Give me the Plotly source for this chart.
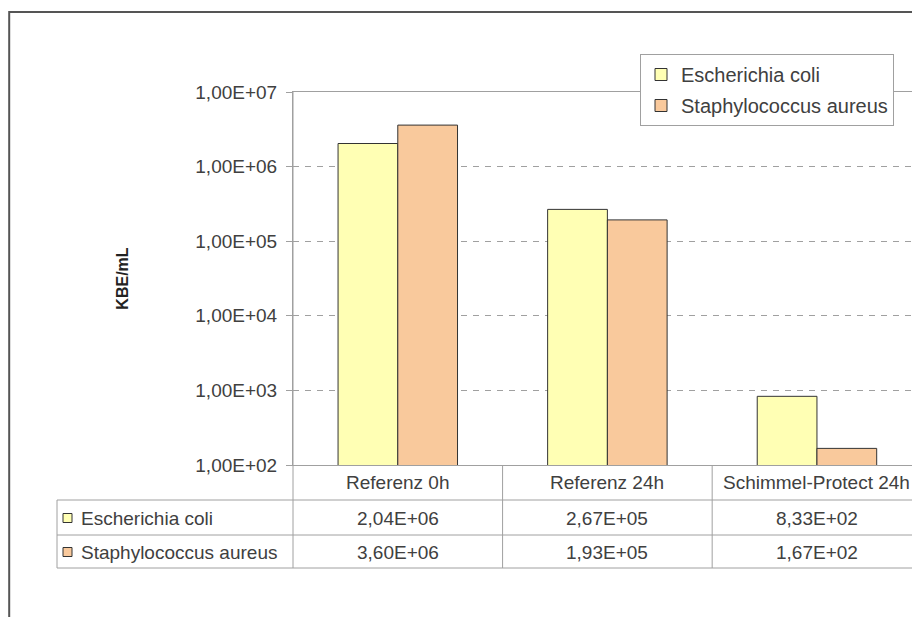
import plotly.graph_objects as go

categories = ["Referenz 0h", "Referenz 24h", "Schimmel-Protect 24h"]
series_names = ["Escherichia coli", "Staphylococcus aureus"]
ecoli = [2.04e6, 2.67e5, 8.33e2]
saureus = [3.60e6, 1.93e5, 1.67e2]
series_values = [ecoli, saureus]
colors = ["#FFFFB4", "#F9C99C"]
tick_vals = [1e2, 1e3, 1e4, 1e5, 1e6, 1e7]

W, H = 920, 617
OFF = 8  # page body margin
L, R, T, B = 293 - OFF, 920 - OFF, 92 - OFF, 465 - OFF  # plot area in figure px


def de(v):
    return f"{v:.2E}".replace(".", ",")


def px(xp):
    # page x -> paper
    return (xp - OFF - L) / (R - L)


def py(yp):
    # page y -> paper
    return (B - (yp - OFF)) / (B - T)


FONT = "Arial, Liberation Sans, sans-serif"
TXT = "#404040"
LINE = "#a0a0a0"

fig = go.Figure()
for i, (name, vals) in enumerate(zip(series_names, series_values)):
    fig.add_trace(go.Bar(
        x=categories, y=vals, name=name, legendgroup=name,
        marker=dict(color=colors[i], line=dict(color="#333333", width=1)),
    ))

shapes = []
# outer frame
shapes.append(dict(type="rect", xref="paper", yref="paper",
                   x0=px(9.2), x1=px(980), y0=py(660), y1=py(12),
                   line=dict(color="#555555", width=2), layer="below"))
# y axis line extended down through the table
shapes.append(dict(type="line", xref="paper", yref="paper",
                   x0=0, x1=0, y0=py(568), y1=1, line=dict(color=LINE, width=1)))
# table left border
shapes.append(dict(type="line", xref="paper", yref="paper",
                   x0=px(57), x1=px(57), y0=py(568), y1=py(500), line=dict(color=LINE, width=1)))
# horizontal table lines
for yy in (500, 535, 568):
    shapes.append(dict(type="line", xref="paper", yref="paper",
                       x0=px(57), x1=1, y0=py(yy), y1=py(yy), line=dict(color=LINE, width=1)))
# column dividers at category boundaries
for k in range(1, len(categories)):
    shapes.append(dict(type="line", xref="x", yref="paper",
                       x0=k - 0.5, x1=k - 0.5, y0=py(568), y1=0, line=dict(color=LINE, width=1)))
# legend-like markers in table rows
for i, yy in enumerate((518, 552)):
    shapes.append(dict(type="rect", xref="paper", yref="paper",
                       x0=px(63), x1=px(72), y0=py(yy + 4.5), y1=py(yy - 4.5),
                       fillcolor=colors[i], line=dict(color="#333333", width=1)))

afont = dict(size=19, color=TXT, family=FONT)
annotations = []
for j, c in enumerate(categories):
    annotations.append(dict(x=j, y=py(482), xref="x", yref="paper", text=c,
                            xanchor="center", yanchor="middle",
                            showarrow=False, font=afont))
for i, vals in enumerate(series_values):
    yy = (518, 552)[i]
    annotations.append(dict(x=px(79), y=py(yy), xref="paper", yref="paper",
                            text=series_names[i], xanchor="left", yanchor="middle",
                            showarrow=False, font=afont))
    for j, v in enumerate(vals):
        annotations.append(dict(x=j, y=py(yy), xref="x", yref="paper", text=de(v),
                                xanchor="center", yanchor="middle",
                                showarrow=False, font=afont))

fig.update_layout(
    width=W, height=H,
    margin=dict(l=L, r=W - R, t=T, b=H - B, pad=0),
    paper_bgcolor="white", plot_bgcolor="white",
    font=dict(family=FONT, size=19, color=TXT),
    barmode="group", bargap=0.43, bargroupgap=0,
    showlegend=True,
    legend=dict(x=px(640), y=py(54), xanchor="left", yanchor="top",
                bgcolor="white", bordercolor=LINE, borderwidth=1,
                font=dict(size=20, color=TXT, family=FONT),
                tracegroupgap=2, itemwidth=30),
    shapes=shapes, annotations=annotations,
)
fig.update_xaxes(range=[-0.5, 2.5 - 1.75 / 209.5], showticklabels=False, ticks="",
                 showline=True, mirror=True, linecolor=LINE, linewidth=1, showgrid=False,
                 fixedrange=True)
fig.update_yaxes(type="log", range=[2, 7], tickvals=tick_vals,
                 ticktext=[de(v) for v in tick_vals],
                 ticks="outside", ticklen=6, tickcolor=LINE, ticklabelstandoff=5,
                 showline=True, linecolor=LINE, linewidth=1,
                 showgrid=True, gridcolor=LINE, griddash="6px,6px", gridwidth=1,
                 tickfont=dict(size=19, color=TXT, family=FONT),
                 title=dict(text="<b>KBE/mL</b>", standoff=62,
                            font=dict(size=16, color="#222222", family=FONT)),
                 zeroline=False, fixedrange=True)

fig.write_html("out.html")
